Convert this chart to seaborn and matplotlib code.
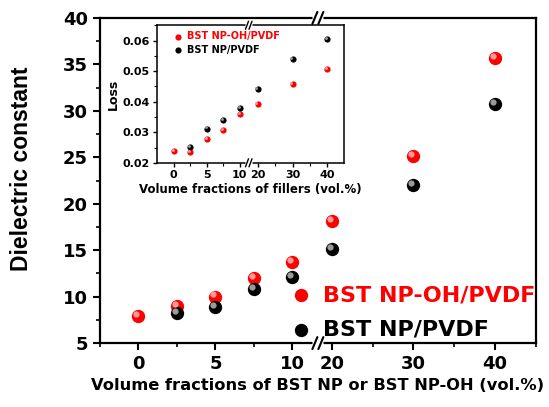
# Imports:
import numpy as np
import pandas as pd
import matplotlib
matplotlib.use("Agg")
import matplotlib.pyplot as plt
import matplotlib.transforms as mtransforms
import seaborn as sns

# Data:
fraction = [0, 2.5, 5, 7.5, 10, 20, 30, 40]
eps_np_oh = [7.9, 9.0, 10.0, 12.0, 13.7, 18.1, 25.1, 35.7]
eps_np = [np.nan, 8.2, 8.9, 10.8, 12.1, 15.1, 22.0, 30.7]
loss_np_oh = [0.0239, 0.0236, 0.0278, 0.0308, 0.0360, 0.0392, 0.0459, 0.0508]
loss_np = [np.nan, 0.0251, 0.0312, 0.0341, 0.0378, 0.0440, 0.0539, 0.0605]

names = ["BST NP-OH/PVDF", "BST NP/PVDF"]
colors = {"BST NP-OH/PVDF": "#ff0000", "BST NP/PVDF": "#000000"}
shine = {"BST NP-OH/PVDF": "#ff9a9a", "BST NP/PVDF": "#9a9a9a"}

main_xticks = [0, 5, 10, 20, 30, 40]
main_xminor = [-2.5, 2.5, 7.5, 25, 35, 45]
inset_xticks = [0, 5, 10, 20, 30, 40]
inset_xminor = [2.5, 7.5, 25, 35]

# Dataframe:
dataframe = pd.concat([
    pd.DataFrame({"fraction": fraction, "eps": eps_np_oh, "loss": loss_np_oh, "sample": names[0]}),
    pd.DataFrame({"fraction": fraction, "eps": eps_np, "loss": loss_np, "sample": names[1]}),
])


# Broken axis scale:
def broken_scale(b1, s2, r):
    def fwd(x):
        x = np.asarray(x, dtype=float)
        return np.where(x <= b1, x, b1 + (x - s2) * r)

    def inv(u):
        u = np.asarray(u, dtype=float)
        return np.where(u <= b1, u, s2 + (u - b1) / r)

    return fwd, inv


def break_marks(ax, xb, w, h, gap, lw):
    fig = ax.figure
    pos = ax.get_position()
    W = pos.width * fig.get_figwidth() * fig.dpi
    H = pos.height * fig.get_figheight() * fig.dpi
    dx, dy, g = w / W, h / H, gap / W
    for y in (0, 1):
        ax.plot([xb - g / 2 - dx / 2, xb + g / 2 + dx / 2], [y, y], color="white",
                lw=lw * 2.5, transform=ax.transAxes, clip_on=False, zorder=10,
                solid_capstyle="butt")
        for off in (-g / 2, g / 2):
            ax.plot([xb + off - dx / 2, xb + off + dx / 2], [y - dy / 2, y + dy / 2],
                    color="black", lw=lw, transform=ax.transAxes, clip_on=False, zorder=11)


def spheres(ax, y, size, shift, label):
    for name in names:
        sub = dataframe[dataframe["sample"] == name].dropna(subset=[y])
        sns.scatterplot(data=sub, x="fraction", y=y, ax=ax, s=size, color=colors[name],
                        edgecolor=colors[name], linewidth=0, label=name if label else None,
                        zorder=3)
        offset = ax.transData + mtransforms.ScaledTranslation(-shift / 72, shift / 72, ax.figure.dpi_scale_trans)
        sns.scatterplot(data=sub, x="fraction", y=y, ax=ax, s=size * 0.22, color=shine[name],
                        linewidth=0, transform=offset, zorder=4, legend=False)


# Style:
sns.set_theme(style="ticks")
plt.rcParams["font.family"] = ["DejaVu Sans"]
plt.rcParams["font.weight"] = "bold"
plt.rcParams["axes.labelweight"] = "bold"
plt.rcParams["text.color"] = "black"
plt.rcParams["axes.labelcolor"] = "black"
plt.rcParams["xtick.color"] = "black"
plt.rcParams["ytick.color"] = "black"

# Figure:
fig = plt.figure(figsize=(5.49, 4.07), dpi=100)
ax = fig.add_axes([0.182, 0.157, 0.794, 0.799])
ax.set_xscale("function", functions=broken_scale(11.6, 18.2, 0.53))

spheres(ax, "eps", 92, 1.6, True)

ax.set_xlim(-2.5, 44.75)
ax.set_ylim(5, 40)
ax.set_xticks(main_xticks)
ax.set_xticks(main_xminor, minor=True)
ax.set_yticks(np.arange(5, 41, 5))
ax.set_yticks(np.arange(5, 40.1, 2.5), minor=True)
ax.set_xticklabels([str(v) for v in main_xticks])
ax.tick_params(axis="both", which="major", labelsize=13, length=5, width=1.5, direction="out")
ax.tick_params(axis="both", which="minor", length=3, width=1.2, direction="out")
for s in ax.spines.values():
    s.set_linewidth(1.6)
    s.set_color("black")

# Labels:
ax.set_xlabel("Volume fractions of BST NP or BST NP-OH (vol.%)", fontsize=11.7, fontweight="bold")
ax.set_ylabel("Dielectric constant", fontsize=16.5, fontweight="bold",
              family=["Liberation Sans", "DejaVu Sans"])
ax.yaxis.set_label_coords(-0.154, 0.535)

# Legend:
leg = ax.legend(loc="upper left", bbox_to_anchor=(0.44, 0.178), frameon=False, fontsize=16,
                handlelength=0.8, handletextpad=0.6, labelspacing=0.65, borderpad=0,
                borderaxespad=0, markerscale=1.0)
for t, n in zip(leg.get_texts(), names):
    t.set_color(colors[n])
    t.set_fontweight("bold")

break_marks(ax, 0.5, 5, 12, 6, 1.5)

# Inset:
inset = fig.add_axes([0.286, 0.600, 0.341, 0.338])
inset.set_xscale("function", functions=broken_scale(11.4, 17.5, 0.53))

spheres(inset, "loss", 20, 0.8, True)

inset.set_xlim(-2.54, 44.8)
inset.set_ylim(0.02, 0.065)
inset.set_xticks(inset_xticks)
inset.set_xticks(inset_xminor, minor=True)
inset.set_xticklabels([str(v) for v in inset_xticks])
inset.set_yticks([0.02, 0.03, 0.04, 0.05, 0.06])
inset.set_yticks(np.arange(0.02, 0.0651, 0.005), minor=True)
inset.tick_params(axis="both", which="major", labelsize=8, length=3, width=1.0, direction="out", pad=2)
inset.tick_params(axis="both", which="minor", length=2, width=0.8, direction="out")
for s in inset.spines.values():
    s.set_linewidth(1.1)
    s.set_color("black")
inset.set_xlabel("Volume fractions of fillers (vol.%)", fontsize=8.5, fontweight="bold", labelpad=2)
inset.set_ylabel("Loss", fontsize=9, fontweight="bold", labelpad=2)

leg2 = inset.legend(loc="upper left", bbox_to_anchor=(0.09, 0.956), frameon=False, fontsize=7,
                    handlelength=0.8, handletextpad=0.55, labelspacing=0.38, borderpad=0,
                    borderaxespad=0)
for t, n in zip(leg2.get_texts(), names):
    t.set_color(colors[n])
    t.set_fontweight("bold")

break_marks(inset, 0.49, 3, 8, 3.5, 1.0)

# Save:
fig.savefig("out.png", dpi=100)
